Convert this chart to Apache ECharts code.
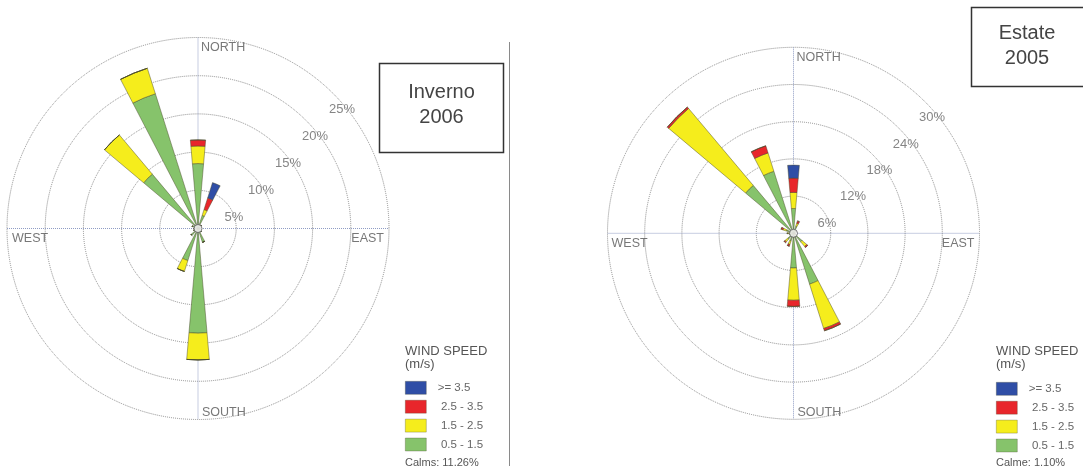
<!DOCTYPE html>
<html>
<head>
<meta charset="utf-8">
<title>Wind roses</title>
<script src="https://cdn.jsdelivr.net/npm/echarts@6/dist/echarts.min.js"></script>
<style>
  html, body { margin: 0; padding: 0; background: #fff; }
  #chart { width: 1083px; height: 471px; }
</style>
</head>
<body>
<div id="chart"></div>
<script>
// Sixteen compass sectors, clockwise from north
const directions = ['N','NNE','NE','ENE','E','ESE','SE','SSE','S','SSW','SW','WSW','W','WNW','NW','NNW'];

// Speed classes (m/s), legend order top to bottom
const speedClasses = ['>= 3.5', '2.5 - 3.5', '1.5 - 2.5', '0.5 - 1.5'];
const classColors = ['#2f4ea6', '#e8262b', '#f5ed1c', '#86c36b'];

// Winter 2006 frequencies (%) per direction and speed class
const winter_05_15 = [8.5, 1.8, 0.6, 0.3, 0.3, 0.3, 0.6, 1.9, 13.7, 4.4, 1.2, 0.6, 0.5, 0.8, 9.3, 18.5];
const winter_15_25 = [2.3, 0.8, 0,   0,   0,   0,   0,   0,   3.5, 1.5, 0,   0,   0,   0,   6.7, 3.5];
const winter_25_35 = [0.8, 1.6, 0,   0,   0,   0,   0,   0,   0,   0,   0,   0,   0,   0,   0,   0];
const winter_35    = [0,   2.1, 0,   0,   0,   0,   0,   0,   0,   0,   0,   0,   0,   0,   0,   0];

// Summer 2005 frequencies (%) per direction and speed class
const summer_05_15 = [4.0, 1.2, 0.5, 0.3, 0.3, 0.4, 1.8, 8.6, 5.6, 1.3, 1.2, 0.6, 0.8, 1.2, 10.1, 10.5];
const summer_15_25 = [2.6, 0.5, 0,   0,   0,   0,   1.0, 7.5, 5.2, 0.6, 0.6, 0,   0.2, 0.6, 16.2, 3.1];
const summer_25_35 = [2.3, 0.4, 0,   0,   0,   0,   0.2, 0.4, 1.0, 0.3, 0.2, 0,   0,   0.3, 0.3,  1.2];
const summer_35    = [2.1, 0,   0,   0,   0,   0,   0,   0,   0,   0,   0,   0,   0,   0,   0,    0];

// Radial rings and their labels
const winterRings = [5, 10, 15, 20, 25];
const winterRingLabels = ['5%', '10%', '15%', '20%', '25%'];
const summerRings = [6, 12, 18, 24, 30];
const summerRingLabels = ['6%', '12%', '18%', '24%', '30%'];

const winterCalms = 'Calms: 11.26%';
const summerCalms = 'Calme: 1.10%';

const FONT = '"Liberation Sans", Arial, sans-serif';

function polarAxes(idx, max, step) {
  return {
    angle: {
      polarIndex: idx, type: 'category', data: directions,
      startAngle: 90 + 360 / 32, clockwise: true,
      axisLine: { show: false }, axisTick: { show: false },
      axisLabel: { show: false }, splitLine: { show: false }
    },
    radius: {
      polarIndex: idx, type: 'value', min: 0, max: max, interval: step,
      axisLine: { show: false }, axisTick: { show: false }, axisLabel: { show: false },
      splitLine: { show: true, lineStyle: { color: '#8c8c8c', type: 'dotted', width: 1 } }
    }
  };
}

function roseSeries(idx, stack, classes) {
  // classes: [>=3.5, 2.5-3.5, 1.5-2.5, 0.5-1.5]; stacked from the lowest speed outward
  const order = [3, 2, 1, 0];
  return order.map(k => ({
    type: 'bar', name: speedClasses[k], coordinateSystem: 'polar', polarIndex: idx,
    stack: stack, data: classes[k], barWidth: '44%', z: 3,
    itemStyle: { color: classColors[k], borderColor: 'rgba(70,70,40,0.65)', borderWidth: 0.7 }
  }));
}

function crossSeries(idx, max) {
  const style = { color: '#8f9cc4', type: 'dotted', width: 1 };
  return [
    [[max, 'N'], [max, 'S']],
    [[max, 'W'], [max, 'E']]
  ].map(d => ({
    type: 'line', coordinateSystem: 'polar', polarIndex: idx, data: d,
    symbol: 'none', silent: true, z: 1, lineStyle: style
  }));
}

function ringLabelSeries(idx, values, labels, offset) {
  return {
    type: 'scatter', coordinateSystem: 'polar', polarIndex: idx, symbolSize: 0, silent: true,
    data: values.map((v, i) => ({ value: [v, 'NE'], name: labels[i] })),
    label: {
      show: true, position: 'inside', offset: offset, formatter: p => p.name,
      color: '#666', fontSize: 13, fontFamily: FONT
    }
  };
}

function compassLabelSeries(idx, max, offs) {
  const items = [
    { n: 'NORTH', d: 'N', align: 'left' },
    { n: 'SOUTH', d: 'S', align: 'left' },
    { n: 'WEST',  d: 'W', align: 'left' },
    { n: 'EAST',  d: 'E', align: 'right' }
  ];
  return {
    type: 'scatter', coordinateSystem: 'polar', polarIndex: idx, symbolSize: 0, silent: true,
    data: items.map((it, i) => ({
      value: [max, it.d], name: it.n,
      label: { align: it.align, offset: offs[i] }
    })),
    label: {
      show: true, position: 'inside', verticalAlign: 'middle', formatter: p => p.name,
      color: '#555', fontSize: 12.5, fontFamily: FONT
    }
  };
}

function hubSeries(idx) {
  return {
    type: 'scatter', coordinateSystem: 'polar', polarIndex: idx, silent: true, z: 6,
    data: [[0, 'N']], symbol: 'circle', symbolSize: 8,
    itemStyle: { color: '#fff', borderColor: '#555', borderWidth: 1 }
  };
}

const w = polarAxes(0, 25, 5);
const s = polarAxes(1, 30, 6);

function legendAt(left, top) {
  return {
    data: speedClasses, orient: 'vertical', left: left, top: top, padding: 0,
    itemWidth: 21, itemHeight: 13, itemGap: 5.3, icon: 'rect',
    selectedMode: false,
    itemStyle: { borderWidth: 0.6, borderColor: 'rgba(70,70,40,0.5)' },
    formatter: n => (n.charAt(0) === '>' ? '  ' + n : '   ' + n),
    textStyle: { color: '#666', fontSize: 11.5, fontFamily: FONT, lineHeight: 13, height: 13 }
  };
}

function legendHeader(x, calms) {
  return [
    { type: 'text', left: x, top: 345,
      style: { text: 'WIND SPEED\n(m/s)', fill: '#555', font: '13px ' + FONT, lineHeight: 13 } },
    { type: 'text', left: x, top: 457,
      style: { text: calms, fill: '#555', font: '11px ' + FONT } }
  ];
}

const option = {
  animation: false,
  backgroundColor: '#fff',
  polar: [
    { center: [198, 228.5], radius: 191 },
    { center: [793.5, 233.3], radius: 186 }
  ],
  angleAxis: [w.angle, s.angle],
  radiusAxis: [w.radius, s.radius],
  legend: [legendAt(405, 381), legendAt(996, 382)],
  series: [
    ...crossSeries(0, 25),
    ...roseSeries(0, 'winter', [winter_35, winter_25_35, winter_15_25, winter_05_15]),
    ringLabelSeries(0, winterRings, winterRingLabels, [9, 16]),
    compassLabelSeries(0, 25, [[3, 10], [4, -7], [5, 10], [-5, 10]]),
    hubSeries(0),
    ...crossSeries(1, 30),
    ...roseSeries(1, 'summer', [summer_35, summer_25_35, summer_15_25, summer_05_15]),
    ringLabelSeries(1, summerRings, summerRingLabels, [7, 16]),
    compassLabelSeries(1, 30, [[3, 10], [4, -7], [4, 10], [-5, 10]]),
    hubSeries(1)
  ],
  graphic: [
    // divider between the two roses
    { type: 'line', shape: { x1: 509.5, y1: 42, x2: 509.5, y2: 466 },
      style: { stroke: '#8a8a8a', lineWidth: 1 } },
    // season boxes
    { type: 'rect', shape: { x: 379.5, y: 63.5, width: 124, height: 89 },
      style: { fill: '#fff', stroke: '#333', lineWidth: 1.5 }, z: 10 },
    { type: 'text', x: 441.5, y: 105, z: 11,
      style: { text: 'Inverno\n2006', fill: '#444', font: '20px ' + FONT, lineHeight: 25,
               align: 'center', verticalAlign: 'middle' } },
    { type: 'rect', shape: { x: 971.5, y: 7.5, width: 120, height: 79 },
      style: { fill: '#fff', stroke: '#333', lineWidth: 1.5 }, z: 10 },
    { type: 'text', x: 1027, y: 46, z: 11,
      style: { text: 'Estate\n2005', fill: '#444', font: '20px ' + FONT, lineHeight: 25,
               align: 'center', verticalAlign: 'middle' } },
    ...legendHeader(405, winterCalms),
    ...legendHeader(996, summerCalms)
  ]
};

const chart = echarts.init(document.getElementById('chart'), null, { renderer: 'canvas' });
chart.setOption(option);
</script>
</body>
</html>
